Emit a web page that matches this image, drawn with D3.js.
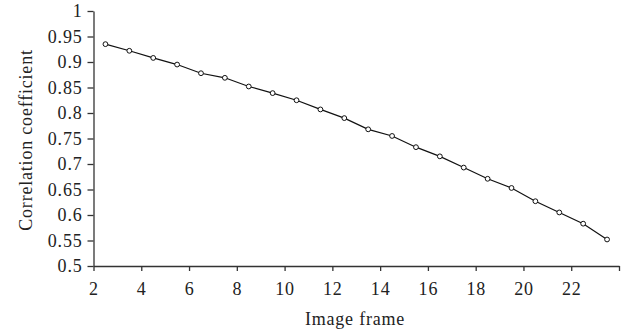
<!DOCTYPE html>
<html>
<head>
<meta charset="utf-8">
<script src="https://cdn.jsdelivr.net/npm/d3@7"></script>
<style>
  body { margin: 0; background: #fff; }
  svg text { font-family: "Liberation Serif", "Times New Roman", serif; fill: #222; }
</style>
</head>
<body>
<svg id="chart" width="629" height="335"></svg>
<script>
// image frame (x) and correlation coefficient (y)
const frames = [2.5, 3.5, 4.5, 5.5, 6.5, 7.5, 8.5, 9.5, 10.5, 11.5, 12.5,
                13.5, 14.5, 15.5, 16.5, 17.5, 18.5, 19.5, 20.5, 21.5, 22.5, 23.5];
const corr = [0.935, 0.922, 0.908, 0.895, 0.878, 0.869, 0.852, 0.839, 0.825, 0.807, 0.790,
              0.768, 0.755, 0.733, 0.715, 0.693, 0.671, 0.653, 0.627, 0.605, 0.583, 0.552];
const xTicks = [2, 4, 6, 8, 10, 12, 14, 16, 18, 20, 22, 24];
const xLabels = ["2", "4", "6", "8", "10", "12", "14", "16", "18", "20", "22", ""];
const yTicks = [0.5, 0.55, 0.6, 0.65, 0.7, 0.75, 0.8, 0.85, 0.9, 0.95, 1];

const svg = d3.select("#chart");
const margin = { top: 11, right: 10, bottom: 69, left: 93.5 };
const W = 629, H = 335;

let xscale = d3.scaleLinear().domain([2, 24]).range([margin.left, W - margin.right]);
let yscale = d3.scaleLinear().domain([0.5, 1]).range([H - margin.bottom, margin.top]);

const fontSize = "18px";

let xAxis = d3.axisBottom(xscale).tickValues(xTicks)
    .tickFormat((d, i) => xLabels[i])
    .tickSize(5).tickPadding(11).tickSizeOuter(0);
let yAxis = d3.axisLeft(yscale).tickValues(yTicks)
    .tickFormat(d => String(+d.toFixed(2)))
    .tickSize(6).tickPadding(5).tickSizeOuter(0);

const gx = svg.append("g").attr("transform", `translate(0,${H - margin.bottom})`).call(xAxis);
const gy = svg.append("g").attr("transform", `translate(${margin.left},0)`).call(yAxis);

[gx, gy].forEach(g => {
    g.selectAll("path, line").attr("stroke", "#333").attr("stroke-width", 1.3);
    g.selectAll("text").style("font-size", fontSize).style("letter-spacing", "0.8px")
        .attr("fill", "#222");
});

// data line + open markers
const line = d3.line().x((d, i) => xscale(frames[i])).y(d => yscale(d));
svg.append("path").datum(corr)
    .attr("d", line)
    .attr("fill", "none")
    .attr("stroke", "#111")
    .attr("stroke-width", 1.2);

svg.append("g").selectAll("circle")
    .data(corr)
    .enter()
    .append("circle")
    .attr("cx", (d, i) => xscale(frames[i]))
    .attr("cy", d => yscale(d))
    .attr("r", 2.4)
    .attr("fill", "#fff")
    .attr("stroke", "#111")
    .attr("stroke-width", 1);

// axis titles
svg.append("text")
    .attr("x", 355).attr("y", 325)
    .attr("text-anchor", "middle")
    .style("font-size", fontSize).style("letter-spacing", "0.8px")
    .text("Image frame");

svg.append("text")
    .attr("transform", "translate(32,140) rotate(-90)")
    .attr("text-anchor", "middle")
    .style("font-size", fontSize).style("letter-spacing", "0.8px")
    .text("Correlation coefficient");
</script>
</body>
</html>
